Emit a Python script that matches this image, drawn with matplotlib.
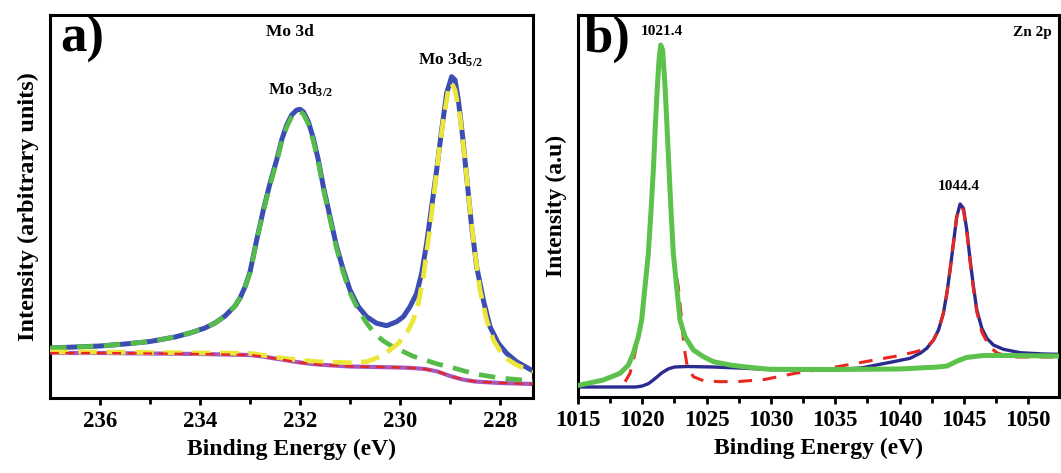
import matplotlib
matplotlib.use("Agg")
import matplotlib.pyplot as plt

plt.rcParams["font.family"] = ["Liberation Serif", "DejaVu Serif"]
plt.rcParams["font.weight"] = "bold"
plt.rcParams["axes.labelweight"] = "bold"
plt.rcParams["mathtext.fontset"] = "custom"
plt.rcParams["mathtext.rm"] = "Liberation Serif:bold"
plt.rcParams["mathtext.it"] = "Liberation Serif:bold"
plt.rcParams["mathtext.bf"] = "Liberation Serif:bold"
plt.rcParams["mathtext.default"] = "rm"

# ---- panel a: Mo 3d ----
mo_env_e = [237.0, 236.5, 236.0, 235.5, 235.0, 234.5, 234.2, 233.9, 233.7, 233.5, 233.3,
            233.2, 233.1, 233.0, 232.867, 232.733, 232.6, 232.467, 232.367, 232.267,
            232.167, 232.067, 232.0, 231.933, 231.833, 231.733, 231.633, 231.533, 231.4,
            231.267, 231.133, 231.0, 230.833, 230.667, 230.467, 230.267, 230.067, 229.933,
            229.8, 229.667, 229.567, 229.467, 229.367, 229.267, 229.167, 229.067, 228.967,
            228.9, 228.833, 228.747, 228.667, 228.567, 228.467, 228.333, 228.2, 228.033,
            227.867, 227.667, 227.34]
mo_env_i = [50, 51, 52, 54, 56.5, 61, 65, 70, 75, 82, 92,
            100, 111, 126, 158, 188, 214.7, 238, 258, 273,
            283, 288, 288.7, 286.3, 276.3, 259.7, 238, 211.3, 181.3,
            151.3, 128, 108, 91.3, 81.3, 74.7, 72.3, 76.3, 81.3,
            91.3, 104.7, 124.7, 154.7, 191.3, 228, 268, 304.7, 321.3,
            318, 298, 261.3, 221.3, 171.3, 131.3, 98, 71.3, 54.7,
            44.7, 36.3, 27]

mo_32_e = [237.0, 236.5, 236.0, 235.5, 235.0, 234.5, 234.2, 233.9, 233.7, 233.5, 233.3,
           233.2, 233.1, 233.0, 232.867, 232.733, 232.6, 232.467, 232.367, 232.267,
           232.167, 232.067, 232.0, 231.933, 231.833, 231.733, 231.633, 231.533, 231.4,
           231.267, 231.133, 231.0, 230.833, 230.667, 230.5, 230.33, 230.17, 230.0,
           229.75, 229.5, 229.25, 229.0, 228.75, 228.5, 228.0, 227.34]
mo_32_i = [50, 51, 52, 54, 56.5, 61, 65, 70, 75, 82, 92,
           100, 111, 125, 157, 187, 213, 236, 256, 271,
           281, 286, 286.5, 284, 274, 257, 236, 209, 179,
           149, 125, 105, 88, 75, 64, 57, 52, 48,
           42, 38, 34, 31, 27.5, 24, 20, 17]

mo_52_e = [237.0, 236.0, 235.0, 234.0, 233.5, 233.0, 232.333, 231.667, 231.0, 230.667,
           230.4, 230.2, 230.033, 229.867, 229.733, 229.633, 229.533, 229.433, 229.333,
           229.233, 229.133, 229.033, 228.967, 228.9, 228.8, 228.7, 228.6, 228.5, 228.4,
           228.267, 228.133, 227.933, 227.667, 227.34]
mo_52_i = [46, 46, 45.5, 45, 45, 44.7, 39.7, 36.3, 35.3, 36.3,
           41.3, 48, 54.7, 64.7, 78, 94.7, 121.3, 158, 198,
           241.3, 278, 308, 314.7, 308, 281.3, 238, 188, 144.7, 108,
           78, 58, 41.3, 33, 26]

mo_bg_e = [237.0, 236.0, 235.0, 234.0, 233.0, 232.75, 232.5, 232.25, 232.0, 231.75,
           231.5, 231.0, 230.5, 230.0, 229.75, 229.5, 229.25, 229.0, 228.75, 228.5,
           228.0, 227.34]
mo_bg_i = [45, 45, 44.5, 44, 43, 41.5, 39.5, 37.5, 35.5, 34,
           33, 31.5, 31, 30.5, 30, 29, 26.5, 22, 18.5, 16.5,
           15, 14]

mo_ticks = [236, 234, 232, 230, 228]

# ---- panel b: Zn 2p ----
zn_green_e = [1015.0, 1015.16, 1016.97, 1018.27, 1018.92, 1019.3, 1019.69, 1019.95, 1020.21,
              1020.47, 1020.68, 1020.86, 1021.01, 1021.17, 1021.3, 1021.43, 1021.58,
              1021.77, 1021.92, 1022.08, 1022.23, 1022.41, 1022.67, 1022.93, 1023.32,
              1023.97, 1024.75, 1025.53, 1026.82, 1027.86, 1029.93, 1035.0, 1040.0,
              1043.0, 1043.7, 1044.5, 1045.2, 1046.5, 1048.0, 1052.4]
zn_green_i = [11.5, 12, 17, 23.7, 32, 43.7, 60.3, 77, 110.3,
              143.7, 187, 227, 270.3, 310.3, 337, 352, 347,
              310.3, 270.3, 227, 187, 143.7, 110.3, 77, 60.3,
              47, 40.3, 35.3, 32, 30.3, 27.7, 27.5, 28,
              30, 31, 36, 39.5, 41.5, 41.5, 41]

zn_red_e = [1018.66, 1019.04, 1019.43, 1019.82, 1020.21, 1020.47, 1020.68, 1020.86,
            1021.01, 1021.17, 1021.3, 1021.43, 1021.58, 1021.77, 1021.92, 1022.08,
            1022.23, 1022.41, 1022.8, 1023.06, 1023.24, 1023.5, 1023.97, 1024.75,
            1026.04, 1027.5, 1029.5, 1032.0, 1034.6, 1037.2, 1039.8, 1041.2, 1042.0,
            1042.64, 1043.03, 1043.41, 1043.68, 1043.93, 1044.19, 1044.45, 1044.71,
            1044.97, 1045.23, 1045.49, 1045.75, 1046.01, 1046.4, 1047.0, 1047.6,
            1048.1, 1048.8, 1050.0, 1052.4]
zn_red_i = [15.3, 23.7, 43.7, 70.3, 106, 140, 184, 224,
            267, 306, 332, 346, 342, 306, 266, 223,
            183, 140, 110, 77, 50.3, 30.3, 20.3, 16.3,
            15.3, 15.5, 17.5, 24, 29, 35, 41, 45, 48,
            57, 67, 83.7, 103.7, 127, 153.7, 180.3, 191,
            187, 165, 135, 108, 85, 65, 50, 44,
            42, 40, 40, 40]

zn_navy_e = [1015.0, 1017.0, 1019.0, 1019.5, 1020.0, 1020.5, 1021.0, 1021.5, 1022.0,
             1022.5, 1023.5, 1025.5, 1027.5, 1030.0, 1033.0, 1035.0, 1037.0, 1039.52,
             1040.82, 1041.6, 1042.12, 1042.64, 1043.03, 1043.41, 1043.68, 1043.93,
             1044.19, 1044.45, 1044.71, 1044.97, 1045.23, 1045.49, 1045.75, 1046.01,
             1046.4, 1046.79, 1047.3, 1048.08, 1049.38, 1051.19, 1052.4]
zn_navy_i = [10, 10, 10, 10, 11, 13.5, 18.5, 24, 28,
             30, 30.5, 30, 29, 27.5, 27, 27.5, 29, 35.3,
             38.7, 43.7, 48.7, 57, 67, 83.7, 103.7, 127,
             153.7, 180.3, 193, 188.7, 167, 137, 110.3, 87,
             68.7, 58.7, 52, 47.7, 44.3, 43, 42.7]

zn_ticks = [1015, 1020, 1025, 1030, 1035, 1040, 1045, 1050]

fig = plt.figure(figsize=(10.61, 4.73), dpi=100)
ax1 = fig.add_axes([50 / 1061, 1 - 398 / 473, 483 / 1061, 383 / 473])
ax2 = fig.add_axes([578 / 1061, 1 - 397 / 473, 481 / 1061, 382 / 473])

ax1.plot(mo_env_e, mo_env_i, color="#3b4db3", lw=3.6, zorder=2)
ax1.plot(mo_32_e, mo_32_i, color="#55bb4a", lw=3.4, dashes=(3.5, 2.2), zorder=3)
ax1.plot(mo_52_e, mo_52_i, color="#ece63a", lw=3.4, dashes=(4.0, 2.0), zorder=3)
ax1.plot(mo_bg_e, mo_bg_i, color="#a657c2", lw=3.0, zorder=2)
ax1.plot(mo_bg_e, mo_bg_i, color="#e8261f", lw=1.6, dashes=(4, 3), zorder=3)

ax1.set_xlim(237.0, 227.34)
ax1.set_ylim(0, 383)
ax1.set_xticks(mo_ticks)
ax1.set_xticks([235, 233, 231, 229], minor=True)

ax2.plot(zn_navy_e, zn_navy_i, color="#2b2b8f", lw=2.4, zorder=2)
ax2.plot(zn_red_e, zn_red_i, color="#e8271f", lw=2.2, dashes=(4.5, 3.5), zorder=3)
ax2.plot(zn_green_e, zn_green_i, color="#5cc24c", lw=3.6, zorder=4)

ax2.set_xlim(1015, 1052.4)
ax2.set_ylim(0, 382)
ax2.set_xticks(zn_ticks)
ax2.set_xticks([1017.5, 1022.5, 1027.5, 1032.5, 1037.5, 1042.5, 1047.5], minor=True)

for ax in (ax1, ax2):
    for sp in ax.spines.values():
        sp.set_linewidth(2.2)
    ax.set_yticks([])
    ax.tick_params(axis="x", which="major", direction="out", length=5, width=2,
                   labelsize=16.5, pad=4)
    ax.tick_params(axis="x", which="minor", direction="out", length=4, width=2)
    ax.set_xlabel("Binding Energy (eV)", fontsize=17, fontweight="bold", labelpad=5)
    for lab in ax.get_xticklabels():
        lab.set_fontweight("bold")

ax1.set_ylabel("Intensity (arbitrary units)", fontsize=17.5, fontweight="bold", labelpad=8)
ax2.set_ylabel("Intensity (a.u)", fontsize=17, fontweight="bold", labelpad=8)

ax1.text(0.022, 1.0, "a)", transform=ax1.transAxes, fontsize=38, fontweight="bold",
         ha="left", va="top")
ax1.text(232.2, 366, "Mo 3d", fontsize=12.5, fontweight="bold", ha="center", va="center")
ax1.text(232.0, 308, r"Mo 3d$_{3/2}$", fontsize=12.5, fontweight="bold",
         ha="center", va="center")
ax1.text(229.0, 338, r"Mo 3d$_{5/2}$", fontsize=12.5, fontweight="bold",
         ha="center", va="center")

ax2.text(0.012, 1.0, "b)", transform=ax2.transAxes, fontsize=38, fontweight="bold",
         ha="left", va="top")
ax2.text(1021.5, 365, "1021.4", fontsize=11, fontweight="bold", ha="center", va="center")
ax2.text(1044.6, 210, "1044.4", fontsize=11, fontweight="bold", ha="center", va="center")
ax2.text(0.985, 0.955, "Zn 2p", transform=ax2.transAxes, fontsize=11, fontweight="bold",
         ha="right", va="center")

fig.savefig("out.png", dpi=100)
